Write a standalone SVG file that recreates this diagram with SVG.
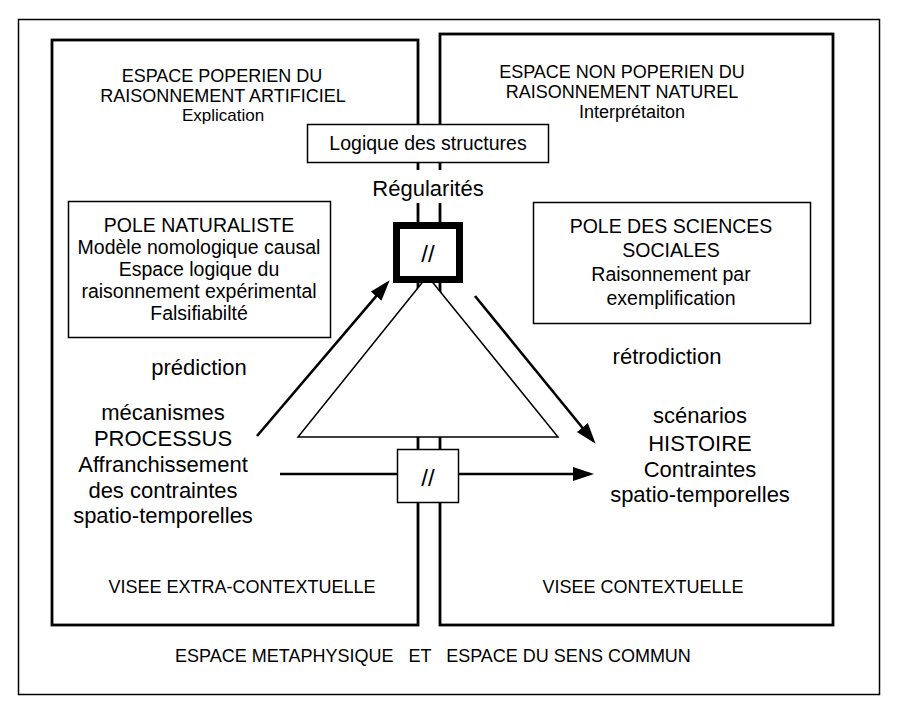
<svg xmlns="http://www.w3.org/2000/svg" width="901" height="713" viewBox="0 0 901 713">
<style>
text{font-family:"Liberation Sans",Arial,Helvetica,sans-serif;fill:#000;text-anchor:middle}
.t18{font-size:18px}
.t17{font-size:17px}
.t19{font-size:19.5px}
.t21{font-size:22px}
.t22{font-size:22px}
.thin{fill:#fff;stroke:#000;stroke-width:1.5}
.space{fill:none;stroke:#000;stroke-width:2.8}
.arr{fill:none;stroke:#000;stroke-width:2.6}
</style>
<defs>
<marker id="ah" markerUnits="userSpaceOnUse" markerWidth="22" markerHeight="15" refX="17" refY="7" orient="auto">
<path d="M0,0 L21,7 L0,14 z" fill="#000"/>
</marker>
</defs>
<rect width="901" height="713" fill="#fff"/>
<g id="frame">
<rect x="18.5" y="19.5" width="861" height="675" fill="none" stroke="#000" stroke-width="1.5"/>
<text class="t18" x="433" y="662" xml:space="preserve">ESPACE METAPHYSIQUE   ET   ESPACE DU SENS COMMUN</text>
</g>
<g id="space-left">
<rect class="space" x="52" y="40" width="366" height="585"/>
<text class="t18" x="222" y="82">ESPACE POPERIEN DU</text>
<text class="t18" x="223" y="102">RAISONNEMENT ARTIFICIEL</text>
<text class="t17" x="223" y="121">Explication</text>
<text class="t18" x="242" y="593">VISEE EXTRA-CONTEXTUELLE</text>
</g>
<g id="space-right">
<rect class="space" x="440" y="34" width="393" height="591"/>
<text class="t18" x="622" y="78">ESPACE NON POPERIEN DU</text>
<text class="t18" x="622" y="98">RAISONNEMENT NATUREL</text>
<text class="t18" x="632" y="118">Interprétaiton</text>
<text class="t18" x="643" y="593">VISEE CONTEXTUELLE</text>
</g>
<g id="connectors">
<line class="arr" x1="257" y1="436" x2="387.1" y2="283.3" marker-end="url(#ah)"/>
<line class="arr" x1="475" y1="296" x2="593.1" y2="440.7" marker-end="url(#ah)"/>
<line class="arr" x1="280" y1="474" x2="590" y2="474" marker-end="url(#ah)"/>
</g>
<g id="triangle">
<polygon points="427.5,276 558,437 298,437" fill="#fff" stroke="#000" stroke-width="1.5"/>
</g>
<g id="logique">
<rect class="thin" x="307.5" y="124.5" width="241" height="38"/>
<text class="t19" x="428" y="150">Logique des structures</text>
</g>
<g id="regularites">
<rect x="366" y="170" width="124" height="33" fill="#fff"/>
<text class="t22" x="428" y="196">Régularités</text>
</g>
<g id="sep-top">
<rect x="396.5" y="225.5" width="63" height="54" fill="#fff" stroke="#000" stroke-width="7"/>
<text x="428" y="262" style="font-size:24px">//</text>
</g>
<g id="sep-bottom">
<rect class="thin" x="397.5" y="449.5" width="61" height="53"/>
<text x="428" y="486" style="font-size:24px">//</text>
</g>
<g id="pole-naturaliste">
<rect class="thin" x="68.5" y="201.5" width="262" height="136"/>
<text class="t19" x="199" y="232">POLE NATURALISTE</text>
<text class="t19" x="199" y="254">Modèle nomologique causal</text>
<text class="t19" x="199" y="276">Espace logique du</text>
<text class="t19" x="199" y="298">raisonnement expérimental</text>
<text class="t19" x="199" y="320">Falsifiabilté</text>
</g>
<g id="pole-sciences-sociales">
<rect class="thin" x="533.5" y="202.5" width="277" height="121"/>
<text class="t19" x="671" y="233">POLE DES SCIENCES</text>
<text class="t19" x="671" y="257">SOCIALES</text>
<text class="t19" x="671" y="281">Raisonnement par</text>
<text class="t19" x="671" y="305">exemplification</text>
</g>
<g id="prediction">
<text class="t22" x="199" y="375">prédiction</text>
</g>
<g id="retrodiction">
<text class="t22" x="667" y="364">rétrodiction</text>
</g>
<g id="processus">
<text class="t21" x="163" y="420">mécanismes</text>
<text class="t21" x="163" y="446">PROCESSUS</text>
<text class="t21" x="163" y="472">Affranchissement</text>
<text class="t21" x="163" y="498">des contraintes</text>
<text class="t21" x="163" y="523">spatio-temporelles</text>
</g>
<g id="histoire">
<text class="t21" x="700" y="423">scénarios</text>
<text class="t21" x="700" y="451">HISTOIRE</text>
<text class="t21" x="700" y="477">Contraintes</text>
<text class="t21" x="700" y="502">spatio-temporelles</text>
</g>
</svg>
